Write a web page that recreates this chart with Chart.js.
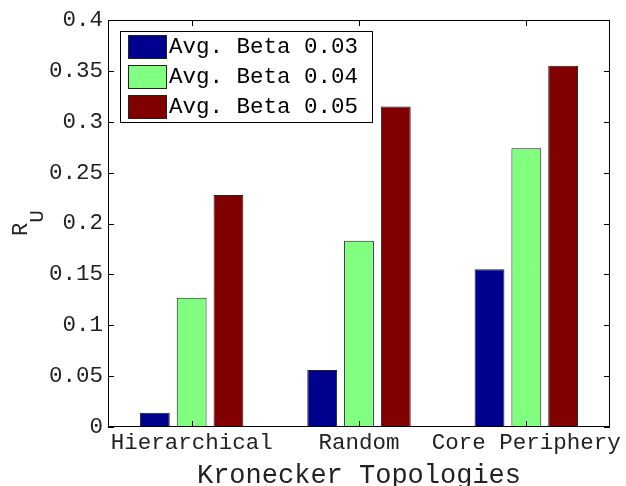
<!DOCTYPE html>
<html>
<head>
<meta charset="utf-8">
<script src="https://cdn.jsdelivr.net/npm/chart.js@4.4.1/dist/chart.umd.min.js"></script>
<style>
  html, body { margin: 0; padding: 0; background: #fff; }
  #wrap { width: 626px; height: 486px; }
</style>
</head>
<body>
<div id="wrap"><canvas id="c" width="626" height="486"></canvas></div>
<script>
// Kronecker topologies and R_U for each average beta
const categories = ['Hierarchical', 'Random', 'Core Periphery'];
const seriesLabels = ['Avg. Beta 0.03', 'Avg. Beta 0.04', 'Avg. Beta 0.05'];
const beta003 = [0.014, 0.056, 0.155];
const beta004 = [0.127, 0.183, 0.274];
const beta005 = [0.228, 0.315, 0.355];
const yTicks = [0, 0.05, 0.1, 0.15, 0.2, 0.25, 0.3, 0.35, 0.4];

const seriesColors = ['#00008f', '#80ff80', '#800000'];
const MONO = '"Liberation Mono", "DejaVu Sans Mono", monospace';

// frame with inward ticks on all four sides, like a classic boxed axis
const framePlugin = {
  id: 'frame',
  afterDatasetsDraw(chart) {
    const { ctx, chartArea: a, scales } = chart;
    ctx.save();
    ctx.strokeStyle = '#000';
    ctx.lineWidth = 1;
    ctx.strokeRect(a.left + 0.5, a.top + 0.5, a.right - a.left - 1, a.bottom - a.top - 1);
    const tl = 6;
    ctx.beginPath();
    scales.y.ticks.forEach(t => {
      const y = Math.round(scales.y.getPixelForValue(t.value)) + 0.5;
      ctx.moveTo(a.left, y); ctx.lineTo(a.left + tl, y);
      ctx.moveTo(a.right, y); ctx.lineTo(a.right - tl, y);
    });
    categories.forEach((c, i) => {
      const x = Math.round(scales.x.getPixelForValue(i)) + 0.5;
      ctx.moveTo(x, a.top); ctx.lineTo(x, a.top + tl);
      ctx.moveTo(x, a.bottom); ctx.lineTo(x, a.bottom - tl);
    });
    ctx.stroke();
    ctx.restore();
  },
  afterDraw(chart) {
    const { ctx, chartArea: a } = chart;
    ctx.save();
    // boxed legend in the upper left
    const lx = 120, ly = 31, lw = 252, lh = 91;
    ctx.fillStyle = '#fff';
    ctx.fillRect(lx, ly, lw, lh);
    ctx.strokeStyle = '#000';
    ctx.lineWidth = 1;
    ctx.strokeRect(lx + 0.5, ly + 0.5, lw, lh);
    ctx.font = '22.5px ' + MONO;
    ctx.textBaseline = 'middle';
    ctx.textAlign = 'left';
    chart.data.datasets.forEach((ds, i) => {
      const cy = ly + 15.5 + i * 30;
      ctx.fillStyle = ds.backgroundColor;
      ctx.fillRect(lx + 8, cy - 11.5, 38, 23);
      ctx.strokeStyle = '#222';
      ctx.strokeRect(lx + 8.5, cy - 11, 38, 23);
      ctx.fillStyle = '#000';
      ctx.fillText(ds.label, lx + 49, cy + 1);
    });
    // y axis title: R with subscript U
    ctx.translate(27, 223);
    ctx.rotate(-Math.PI / 2);
    ctx.fillStyle = '#222';
    ctx.textAlign = 'left';
    ctx.textBaseline = 'alphabetic';
    ctx.font = '22px ' + MONO;
    const rw = ctx.measureText('R').width;
    ctx.font = '21px ' + MONO;
    const uw = ctx.measureText('U').width;
    const x0 = -(rw + uw) / 2;
    ctx.font = '22px ' + MONO;
    ctx.fillText('R', x0, 0);
    ctx.font = '21px ' + MONO;
    ctx.fillText('U', x0 + rw, 16);
    ctx.restore();
  }
};

new Chart(document.getElementById('c'), {
  type: 'bar',
  data: {
    labels: categories,
    datasets: [beta003, beta004, beta005].map((vals, i) => ({
      label: seriesLabels[i],
      data: vals,
      backgroundColor: seriesColors[i],
      borderColor: '#222',
      borderWidth: 1,
      categoryPercentage: 0.66,
      barPercentage: 0.81
    }))
  },
  options: {
    responsive: false,
    animation: false,
    layout: { padding: { top: 20, right: 13, left: 0, bottom: 0 } },
    plugins: { legend: { display: false }, tooltip: { enabled: false } },
    scales: {
      x: {
        grid: { display: false, drawTicks: false },
        border: { display: false },
        ticks: { color: '#222', font: { family: MONO, size: 22.5 }, padding: 3, maxRotation: 0, autoSkip: false },
        title: { display: true, text: 'Kronecker Topologies', color: '#222', font: { family: MONO, size: 27, lineHeight: 1 }, padding: { top: 0, bottom: -3 } },
        afterFit(s) { s.height = 59; }
      },
      y: {
        min: 0, max: 0.4,
        grid: { display: false, drawTicks: false },
        border: { display: false },
        afterBuildTicks(s) { s.ticks = yTicks.map(v => ({ value: v })); },
        ticks: {
          color: '#222', font: { family: MONO, size: 22.5 }, padding: 5,
          callback: v => String(v).replace(/^0\.(\d)0$/, '0.$1')
        },
        afterFit(s) { s.width = 108; }
      }
    }
  },
  plugins: [framePlugin]
});
</script>
</body>
</html>
